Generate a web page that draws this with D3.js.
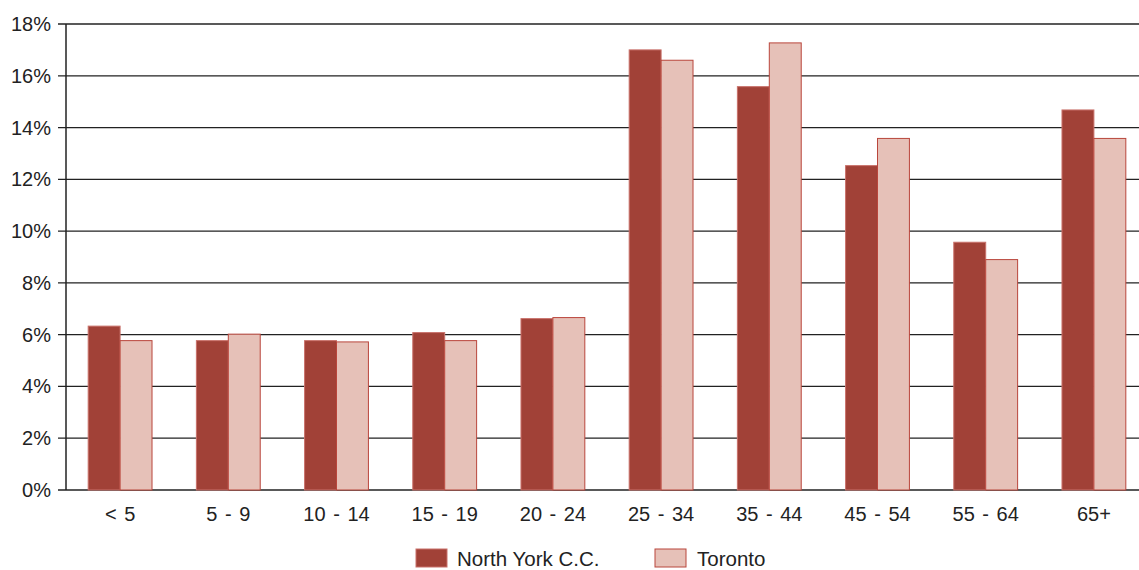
<!DOCTYPE html>
<html><head><meta charset="utf-8">
<script src="https://cdn.jsdelivr.net/npm/d3@7"></script>
<style>body{margin:0;background:#fff;}svg{display:block;font-family:"Liberation Sans",Arial,sans-serif;}</style>
</head><body><svg id="c" width="1139" height="570"></svg>
<script>
const categories = ["< 5","5 - 9","10 - 14","15 - 19","20 - 24","25 - 34","35 - 44","45 - 54","55 - 64","65+"];
const northYork = [6.33,5.77,5.77,6.08,6.62,17.0,15.58,12.53,9.57,14.68];
const toronto   = [5.77,6.02,5.72,5.77,6.66,16.6,17.27,13.58,8.9,13.58];
const seriesNames = ["North York C.C.","Toronto"];
const yTicks = [0,2,4,6,8,10,12,14,16,18];

const svg = d3.select("#c");
const x = d3.scaleBand().domain(categories).range([66,1148]).paddingInner(0.41).paddingOuter(0.205);
const xs = d3.scaleBand().domain(seriesNames).range([0,x.bandwidth()]);
const y = d3.scaleLinear().domain([0,18]).range([490,24]);

const g = svg.append("g");
g.selectAll("line.grid").data(yTicks).join("line")
  .attr("x1",58).attr("x2",1139).attr("y1",d=>y(d)).attr("y2",d=>y(d))
  .attr("stroke","#222").attr("stroke-width",1.3);
g.append("line").attr("x1",66).attr("x2",66).attr("y1",y(18)).attr("y2",y(0)).attr("stroke","#222").attr("stroke-width",1.5);
g.selectAll("text.yl").data(yTicks).join("text")
  .attr("x",51).attr("y",d=>y(d)).attr("dy","0.35em").attr("text-anchor","end")
  .attr("font-size",20).attr("fill","#222").text(d=>d+"%");

const colors = {"North York C.C.":"#a14137","Toronto":"#e6c1b8"};
const strokes = {"North York C.C.":"#c9716a","Toronto":"#b9463c"};
const data = categories.map((c,i)=>({c, vals:[{s:seriesNames[0],v:northYork[i]},{s:seriesNames[1],v:toronto[i]}]}));
const grp = svg.append("g").selectAll("g").data(data).join("g").attr("transform",d=>`translate(${x(d.c)},0)`);
grp.selectAll("rect").data(d=>d.vals).join("rect")
  .attr("x",d=>xs(d.s)).attr("width",xs.bandwidth())
  .attr("y",d=>y(d.v)).attr("height",d=>y(0)-y(d.v))
  .attr("fill",d=>colors[d.s]).attr("stroke",d=>strokes[d.s]).attr("stroke-width",1);

svg.append("g").selectAll("text").data(categories).join("text")
  .attr("x",d=>x(d)+x.bandwidth()/2).attr("y",521).attr("text-anchor","middle")
  .attr("font-size",20).attr("word-spacing",2).attr("fill","#222").text(d=>d);

const leg = [{s:seriesNames[0],x:416,tx:457},{s:seriesNames[1],x:655,tx:697}];
const lg = svg.append("g");
lg.selectAll("rect").data(leg).join("rect")
  .attr("x",d=>d.x).attr("y",549).attr("width",31).attr("height",18)
  .attr("fill",d=>colors[d.s]).attr("stroke",d=>strokes[d.s]).attr("stroke-width",1);
lg.selectAll("text").data(leg).join("text")
  .attr("x",d=>d.tx).attr("y",566).attr("font-size",20.5).attr("fill","#222").text(d=>d.s);
</script></body></html>
